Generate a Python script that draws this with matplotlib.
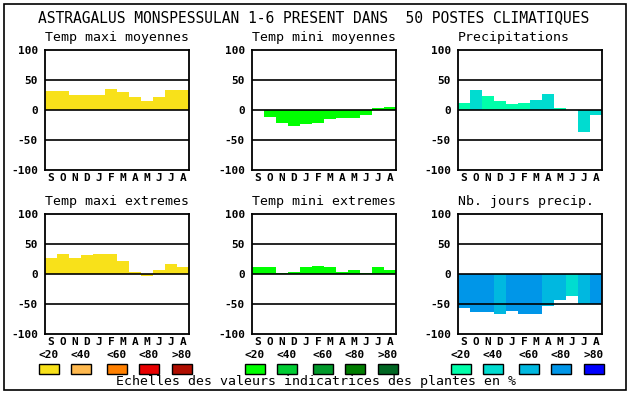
import matplotlib
matplotlib.use('Agg')
import matplotlib.pyplot as plt
from matplotlib.patches import Rectangle

W, H = 630, 394
MONO = 'DejaVu Sans Mono'

# ── data ──
months = ['S', 'O', 'N', 'D', 'J', 'F', 'M', 'A', 'M', 'J', 'J', 'A']
tmax_moy = [32, 32, 25, 25, 25, 35, 30, 22, 15, 22, 33, 33]
tmin_moy = [0, -11, -21, -26, -24, -21, -15, -13, -13, -8, 3, 5]
precip = [12, 33, 23, 15, 10, 12, 17, 27, 3, 0, -36, -8]
precip_cls = [0, 1, 0, 0, 0, 0, 1, 1, 0, 0, 1, 1]
tmax_ext = [26, 34, 26, 31, 34, 34, 22, 4, -4, 6, 16, 12]
tmin_ext = [12, 11, 2, 4, 12, 14, 11, 4, 6, 2, 11, 7]
jours = [-56, -64, -64, -67, -62, -66, -66, -54, -44, -37, -50, -50]
jours_cls = [3, 3, 3, 2, 3, 3, 3, 2, 2, 1, 2, 3]
scale_labels = ['<20', '<40', '<60', '<80', '>80']

yellow = ['#f8e11a', '#ffb94e', '#ff8000', '#e80000', '#b00e00']
green = ['#00ff00', '#00cc33', '#00992a', '#007d00', '#006622']
blue = ['#00ffaa', '#00dcd0', '#00b8e0', '#0096e8', '#0000ff']

fig = plt.figure(figsize=(W / 100, H / 100), dpi=100)
fig.patch.set_facecolor('white')


def fx(x):
    return x / W


def fy(y):
    return 1 - y / H


# outer frame
fig.patches.append(Rectangle((fx(4), fy(390)), fx(622), 386 / H, transform=fig.transFigure,
                             fill=False, edgecolor='black', linewidth=1.2))

fig.text(fx(314), fy(18), 'ASTRAGALUS MONSPESSULAN 1-6 PRESENT DANS  50 POSTES CLIMATIQUES',
         ha='center', va='center', fontsize=10.5, family=MONO)


def panel(x0, y0, title, values, colors):
    ax = fig.add_axes([fx(x0), fy(y0 + 120), 144 / W, 120 / H])
    ax.set_xlim(0, 12)
    ax.set_ylim(-100, 100)
    ax.bar([i + 0.5 for i in range(12)], values, width=1.0, color=colors,
           linewidth=0, zorder=2)
    for v in (50, 0, -50):
        ax.axhline(v, color='black', lw=1.2, zorder=3)
    for s in ax.spines.values():
        s.set_linewidth(1.3)
    ax.set_xticks([i + 0.5 for i in range(12)])
    ax.set_xticklabels(months, family=MONO, fontweight='bold', fontsize=8)
    ax.set_yticks([100, 50, 0, -50, -100])
    ax.set_yticklabels(['100', '50', '0', '-50', '-100'], family=MONO,
                       fontweight='bold', fontsize=8)
    ax.tick_params(length=0, pad=2)
    ax.tick_params(axis='y', pad=5)
    fig.text(fx(x0), fy(y0 - 12), title, ha='left', va='center',
             fontsize=9.5, family=MONO)
    return ax


panel(45, 50, 'Temp maxi moyennes', tmax_moy, [yellow[0]] * 12)
panel(252, 50, 'Temp mini moyennes', tmin_moy, [green[0]] * 12)
panel(458, 50, 'Precipitations', precip, [blue[c] for c in precip_cls])
panel(45, 214, 'Temp maxi extremes', tmax_ext, [yellow[0]] * 12)
panel(252, 214, 'Temp mini extremes', tmin_ext, [green[0]] * 12)
panel(458, 214, 'Nb. jours precip.', jours, [blue[c] for c in jours_cls])

# legend scales
groups = [(39, yellow), (245, green), (451, blue)]
steps = [0, 32, 68, 100, 133]
for gx, pal in groups:
    for k, (lab, col) in enumerate(zip(scale_labels, pal)):
        bx = gx + steps[k]
        fig.patches.append(Rectangle((fx(bx), fy(374)), 20 / W, 10 / H,
                                     transform=fig.transFigure, facecolor=col,
                                     edgecolor='black', linewidth=1.0))
        fig.text(fx(bx + 10), fy(355), lab, ha='center', va='center',
                 fontsize=8, fontweight='bold', family=MONO)

fig.text(fx(316), fy(382), 'Echelles des valeurs indicatrices des plantes en %',
         ha='center', va='center', fontsize=9.5, family=MONO)

fig.savefig('out.png', dpi=100, facecolor='white')
